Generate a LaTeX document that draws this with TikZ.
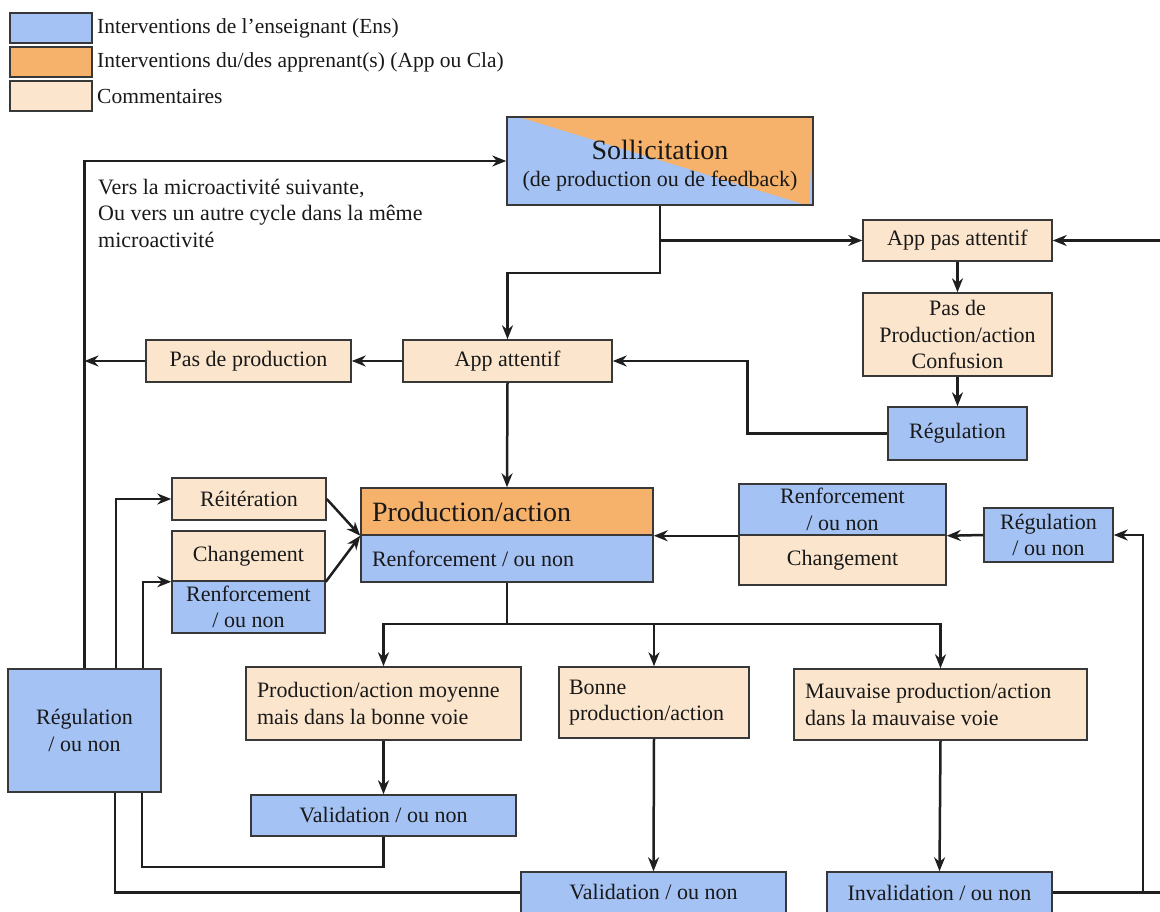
\documentclass[tikz,border=0pt]{standalone}
\usepackage{fontspec}
\setmainfont{Liberation Serif}
\usetikzlibrary{arrows.meta,calc,backgrounds}
\definecolor{ensblue}{RGB}{164,194,244}
\definecolor{apporange}{RGB}{246,178,107}
\definecolor{compeach}{RGB}{252,229,205}
\begin{document}
\begin{tikzpicture}[x=1pt,y=-1pt,
  base/.style={font=\fontsize{22}{26.5}\selectfont, text=black!90},
  big/.style={font=\fontsize{28}{32}\selectfont, text=black!90},
  legtext/.style={font=\fontsize{21.5}{24}\selectfont, text=black!90, anchor=west, inner sep=0pt},
  box/.style={base, draw=black!78, line width=1.5pt, inner sep=0pt, align=center},
  ens/.style={box, fill=ensblue},
  app/.style={box, fill=apporange},
  com/.style={box, fill=compeach},
  lbox/.style={inner xsep=11pt, inner ysep=0pt, align=flush left},
  conn/.style={line width=2.5pt, draw=black!88},
  arr/.style={conn, -{Stealth[length=14pt,width=11pt]}},
]
\useasboundingbox (0,0) rectangle (1160,911);

% legend
\node[ens, minimum width=82pt, minimum height=30pt] (leg1) at (51,28) {};
\node[app, minimum width=82pt, minimum height=30pt] (leg2) at (51,62) {};
\node[com, minimum width=82pt, minimum height=30pt] (leg3) at (51,96) {};
\node[legtext] (legt1) at (97,28) {Interventions de l’enseignant (Ens)};
\node[legtext] (legt2) at (97,62) {Interventions du/des apprenant(s) (App ou Cla)};
\node[legtext] (legt3) at (97,96) {Commentaires};

% sollicitation
\node[box, minimum width=306pt, minimum height=88pt] (soll) at (660,161) {};
\begin{pgfonlayer}{background}
  \fill[ensblue] (soll.north west) rectangle (soll.south east);
  \fill[apporange] ([xshift=10pt]soll.north west) -- (soll.north east) -- ([xshift=-5pt]soll.south east) -- cycle;
\end{pgfonlayer}
\node[big] (sollt) at ([yshift=11pt]soll.center) {Sollicitation};
\node[base] (solls) at ([yshift=-20pt]soll.center) {(de production ou de feedback)};

\node[base, anchor=west, align=left, inner sep=0pt] (note) at (98,213)
  {Vers la microactivité suivante,\\Ou vers un autre cycle dans la même\\microactivité};

% right top column
\node[com, minimum width=189pt, minimum height=41pt] (apa) at (957.5,240.5) {App pas attentif};
\node[com, minimum width=189pt, minimum height=83pt] (pdc) at (957.5,334.5) {Pas de\\Production/action\\Confusion};
\node[ens, minimum width=139pt, minimum height=53pt] (reg1) at (957.5,433.5) {Régulation};

% middle row
\node[com, minimum width=209pt, minimum height=42pt] (aa) at (507.5,361) {App attentif};
\node[com, minimum width=205pt, minimum height=42pt] (pdp) at (248.5,361) {Pas de production};

% production/action
\node[app, lbox, text width=270pt, minimum height=47pt, font=\fontsize{28}{32}\selectfont] (prodA) at (507,511.5) {Production/action};
\node[ens, lbox, text width=270pt, minimum height=47pt] (prodB) at (507,558.5) {Renforcement / ou non};

% left small boxes
\node[com, minimum width=154pt, minimum height=42pt] (reit) at (249,499) {Réitération};
\node[com, minimum width=153pt, minimum height=50pt] (chg) at (248.5,556) {Changement};
\node[ens, minimum width=153pt, minimum height=52pt] (renf) at (248.5,607) {Renforcement\\/ ou non};

% right boxes
\node[ens, minimum width=207pt, minimum height=51pt] (renfR) at (842.5,509.5) {Renforcement\\/ ou non};
\node[com, minimum width=207pt, minimum height=50pt] (chgR) at (842.5,560) {Changement};
\node[ens, minimum width=129pt, minimum height=54pt] (reg2) at (1048.5,535) {Régulation\\/ ou non};

% left regulation
\node[ens, minimum width=153pt, minimum height=123pt] (regL) at (84.5,730.5) {Régulation\\/ ou non};

% bottom boxes
\node[com, lbox, text width=253pt, minimum height=73pt] (moy) at (383.5,703.5) {Production/action moyenne\\mais dans la bonne voie};
\node[com, lbox, inner xsep=10pt, text width=170pt, minimum height=71pt] (bon) at (654,702.5) {Bonne\\production/action};
\node[com, lbox, text width=271pt, minimum height=71pt] (mau) at (940.5,704.5) {Mauvaise production/action\\dans la mauvaise voie};
\node[ens, minimum width=265pt, minimum height=41pt] (valM) at (383.5,815.5) {Validation / ou non};
\node[ens, minimum width=265pt, minimum height=41pt] (valB) at (653.5,892.5) {Validation / ou non};
\node[ens, minimum width=225pt, minimum height=41pt] (inv) at (939.5,892.5) {Invalidation / ou non};

% edge coordinates
\coordinate (E1) at (1160,240.5);
\coordinate (E2) at (1160,892.5);
\coordinate (J) at (1143,892.5);

% connectors
\draw[arr] (regL.north) |- (soll.west);
\draw[arr] ([xshift=31.5pt]regL.north) |- (reit.west);
\draw[arr] ([xshift=58.5pt]regL.north) |- (chg.south west);
\draw[conn] ([xshift=30.5pt]regL.south) |- (valB.west);
\draw[conn] ([xshift=57.5pt]regL.south) |- ($(valM.south)+(0,30)$) -- (valM.south);

\draw[arr] (soll.south) -- ++(0,67) -| (aa.north);
\draw[arr] (soll.south |- apa.west) -- (apa.west);
\draw[arr] (E1) -- (apa.east);
\draw[arr] (apa.south) -- (pdc.north);
\draw[arr] (pdc.south) -- (reg1.north);
\draw[arr] (reg1.west) -- ++(-140,0) |- (aa.east);
\draw[arr] (aa.west) -- (pdp.east);
\draw[arr] (pdp.west) -- (pdp.west -| regL.north);
\draw[arr] (aa.south) -- (prodA.north);

\draw[arr] (reit.east) -- (prodA.south west);
\draw[arr] (chg.south east) -- (prodA.south west);

\draw[arr] (renfR.south west) -- (prodA.south east);
\draw[arr] (reg2.west) -- (renfR.south east);
\draw[conn] (inv.east) -- (E2);
\draw[arr] (J) |- (reg2.east);

\draw[conn] (prodB.south) -- ++(0,41) coordinate (T);
\draw[arr] (T) -| (moy.north);
\draw[arr] (T) -| (bon.north);
\draw[arr] (T) -| (mau.north);
\draw[arr] (moy.south) -- (valM.north);
\draw[arr] (bon.south) -- (valB.north);
\draw[arr] (mau.south) -- (inv.north);
\end{tikzpicture}
\end{document}
